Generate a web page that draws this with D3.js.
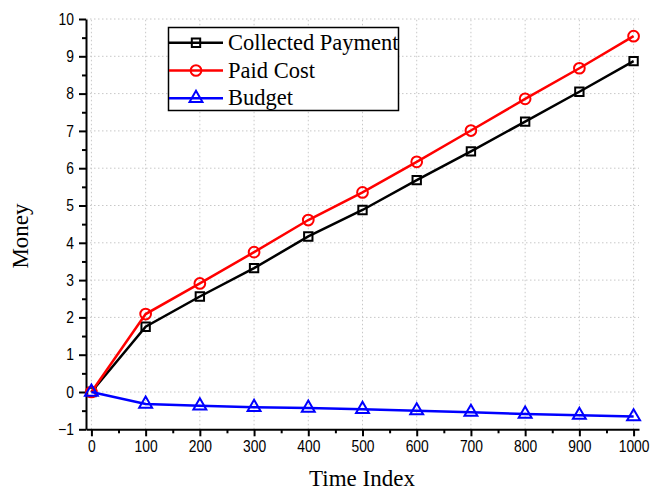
<!DOCTYPE html>
<html><head><meta charset="utf-8">
<script src="https://cdn.jsdelivr.net/npm/d3@7"></script>
<style>body{margin:0;background:#fff}</style>
</head><body>
<svg id="c" width="651" height="491"></svg>
<script>
const timeIndex = [0,100,200,300,400,500,600,700,800,900,1000];
const collectedPayment = [0,1.75,2.56,3.32,4.17,4.88,5.68,6.45,7.25,8.05,8.87];
const paidCost = [0,2.09,2.91,3.75,4.61,5.35,6.17,7.01,7.86,8.68,9.54];
const budget = [0,-0.32,-0.37,-0.41,-0.43,-0.46,-0.50,-0.54,-0.59,-0.62,-0.66];
const xTicks = [0,100,200,300,400,500,600,700,800,900,1000];
const yTicks = [-1,0,1,2,3,4,5,6,7,8,9,10];
const seriesNames = ["Collected Payment","Paid Cost","Budget"];

const svg = d3.select("#c");
const x = d3.scaleLinear().domain([-10,1010]).range([86,639]);
const y = d3.scaleLinear().domain([-1,10]).range([429.3,19]);
const SX = 0.84;

// grid
const g = svg.append("g");
g.selectAll("line.gx").data(xTicks).join("line")
  .attr("x1",d=>x(d)).attr("x2",d=>x(d)).attr("y1",y(-1)).attr("y2",y(10))
  .attr("stroke","#c8c8c8").attr("stroke-width",1).attr("stroke-dasharray","1.5,2.5");
g.selectAll("line.gy").data(yTicks.filter(d=>d>-1)).join("line")
  .attr("x1",x(-10)).attr("x2",x(1010)).attr("y1",d=>y(d)).attr("y2",d=>y(d))
  .attr("stroke","#c8c8c8").attr("stroke-width",1).attr("stroke-dasharray","1.5,2.5");

// axes
const xAxis = svg.append("g").attr("transform",`translate(0,${y(-1)})`)
  .call(d3.axisBottom(x).tickValues(xTicks).tickFormat(d3.format("d")).tickSize(7).tickSizeOuter(0).tickPadding(4));
const xMinor = svg.append("g").attr("transform",`translate(0,${y(-1)})`)
  .call(d3.axisBottom(x).tickValues(d3.range(50,1000,100)).tickSize(4).tickFormat("").tickSizeOuter(0));
const yAxis = svg.append("g").attr("transform",`translate(${x(-10)},0)`)
  .call(d3.axisLeft(y).tickValues(yTicks).tickFormat(d3.format("d")).tickSize(7).tickSizeOuter(0).tickPadding(5));
const yMinor = svg.append("g").attr("transform",`translate(${x(-10)},0)`)
  .call(d3.axisLeft(y).tickValues(d3.range(-0.5,10,1)).tickSize(4).tickFormat("").tickSizeOuter(0));
[xAxis,xMinor,yAxis,yMinor].forEach(a=>{
  a.selectAll("path,line").attr("stroke","#000").attr("stroke-width",2);
  a.selectAll("text").attr("font-family","'Liberation Sans',Arial,sans-serif")
    .attr("font-size",16.5).attr("fill","#000").attr("transform",`scale(${SX},1)`);
});
yAxis.selectAll("text").attr("x",-12/SX);
xMinor.select("path").remove(); yMinor.select("path").remove();

// axis titles
svg.append("text").attr("x",362).attr("y",486).attr("text-anchor","middle")
  .attr("font-family","'Liberation Serif','Times New Roman',serif").attr("font-size",23).text("Time Index");
svg.append("text").attr("transform","translate(28,236) rotate(-90)").attr("text-anchor","middle")
  .attr("font-family","'Liberation Serif','Times New Roman',serif").attr("font-size",23).text("Money");

const series = [
  {name:seriesNames[0], vals:collectedPayment, color:"#000", sym:d3.symbolSquare, size:70},
  {name:seriesNames[1], vals:paidCost, color:"#ff0000", sym:d3.symbolCircle, size:90},
  {name:seriesNames[2], vals:budget, color:"#0000ff", sym:d3.symbolTriangle, size:72}
];
const line = d3.line().x(d=>x(d[0])).y(d=>y(d[1]));
series.forEach(s=>{
  const pts = timeIndex.map((t,i)=>[t,s.vals[i]]);
  svg.append("path").attr("d",line(pts)).attr("fill","none").attr("stroke",s.color).attr("stroke-width",2.5);
  svg.selectAll(null).data(pts).join("path")
    .attr("transform",d=>`translate(${x(d[0])},${y(d[1])})`)
    .attr("d",d3.symbol(s.sym,s.size)).attr("fill","none").attr("stroke",s.color).attr("stroke-width",2);
});

// legend
const lg = svg.append("g");
lg.append("rect").attr("x",168.5).attr("y",27.5).attr("width",230).attr("height",83)
  .attr("fill","#fff").attr("stroke","#000").attr("stroke-width",1.5);
series.forEach((s,i)=>{
  const yy = 42.7 + i*27.8;
  lg.append("line").attr("x1",169).attr("x2",223).attr("y1",yy).attr("y2",yy).attr("stroke",s.color).attr("stroke-width",2.5);
  lg.append("path").attr("transform",`translate(196,${yy})`).attr("d",d3.symbol(s.sym,s.size))
    .attr("fill","none").attr("stroke",s.color).attr("stroke-width",2);
  lg.append("text").attr("x",228).attr("y",yy+7).attr("font-family","'Liberation Serif','Times New Roman',serif")
    .attr("font-size",22.5).text(s.name);
});
</script>
</body></html>
